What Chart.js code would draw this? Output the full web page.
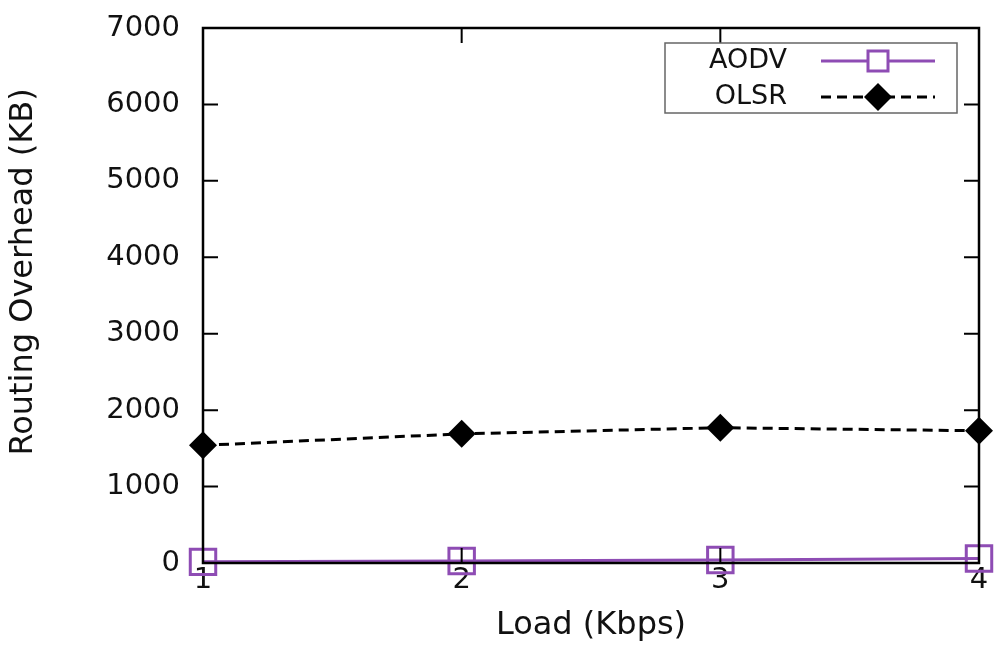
<!DOCTYPE html>
<html>
<head>
<meta charset="utf-8">
<title>Routing Overhead vs Load</title>
<script src="https://cdn.jsdelivr.net/npm/chart.js@4.4.1/dist/chart.umd.min.js"></script>
<style>
  html, body { margin: 0; padding: 0; background: #fff; }
  #wrap { width: 995px; height: 672px; }
</style>
</head>
<body>
<div id="wrap"><canvas id="overheadChart" width="995" height="672"></canvas></div>
<script>
// values
const loads = ['1', '2', '3', '4'];
const aodvOverhead = [15, 25, 40, 60];
const olsrOverhead = [1540, 1690, 1770, 1730];
const yTicks = [0, 1000, 2000, 3000, 4000, 5000, 6000, 7000];
const yTitle = 'Routing Overhead (KB)';

const PURPLE = '#8e4cb4';
const FONT = '"DejaVu Sans", "Liberation Sans", Arial, sans-serif';
const TEXT = '#111';

// keep the plot box where the original has it, labels may overhang
const noLabelPadding = (scale) => {
    scale.paddingTop = 0;
    scale.paddingBottom = 0;
    scale.paddingLeft = 0;
    scale.paddingRight = 0;
};

// gnuplot style frame with inward ticks on all four sides
const framePlugin = {
    id: 'frame',
    afterDatasetsDraw(chart) {
        const { ctx, chartArea: a, scales } = chart;
        const len = 15;
        ctx.save();
        ctx.strokeStyle = '#000';
        ctx.lineWidth = 2;
        ctx.beginPath();
        yTicks.slice(1, -1).forEach((v) => {
            const y = scales.y.getPixelForValue(v);
            ctx.moveTo(a.left, y); ctx.lineTo(a.left + len, y);
            ctx.moveTo(a.right, y); ctx.lineTo(a.right - len, y);
        });
        loads.slice(1, -1).forEach((l, i) => {
            const x = scales.x.getPixelForValue(i + 1);
            ctx.moveTo(x, a.bottom); ctx.lineTo(x, a.bottom - len);
            ctx.moveTo(x, a.top); ctx.lineTo(x, a.top + len);
        });
        ctx.stroke();
        ctx.lineWidth = 2.5;
        ctx.strokeRect(a.left, a.top, a.right - a.left, a.bottom - a.top);
        ctx.restore();
    },
    afterDraw(chart) {
        const { ctx } = chart;
        ctx.save();

        // y axis title, a bit above the plot centre like the original
        ctx.font = '32px ' + FONT;
        ctx.fillStyle = TEXT;
        ctx.textAlign = 'center';
        ctx.textBaseline = 'middle';
        ctx.translate(24, 272);
        ctx.rotate(-Math.PI / 2);
        ctx.fillText(yTitle, 0, 0);
        ctx.setTransform(1, 0, 0, 1, 0, 0);

        // legend: label on the left, line sample on the right, boxed
        const box = { x: 665, y: 43, w: 292, h: 70 };
        ctx.fillStyle = '#fff';
        ctx.fillRect(box.x, box.y, box.w, box.h);
        ctx.strokeStyle = '#666';
        ctx.lineWidth = 1.5;
        ctx.strokeRect(box.x, box.y, box.w, box.h);

        ctx.font = '27px ' + FONT;
        ctx.textAlign = 'right';

        chart.data.datasets.forEach((ds, i) => {
            const y = 61 + i * 36;
            ctx.fillStyle = TEXT;
            ctx.fillText(ds.label, 787, y);
            ctx.strokeStyle = ds.borderColor;
            ctx.lineWidth = ds.borderWidth;
            ctx.setLineDash(ds.borderDash || []);
            ctx.beginPath();
            ctx.moveTo(821, y); ctx.lineTo(935, y);
            ctx.stroke();
            ctx.setLineDash([]);
            if (ds.pointStyle === 'rect') {
                const s = 10;
                ctx.fillStyle = '#fff';
                ctx.fillRect(878 - s, y - s, 2 * s, 2 * s);
                ctx.strokeStyle = ds.pointBorderColor;
                ctx.lineWidth = ds.pointBorderWidth;
                ctx.strokeRect(878 - s, y - s, 2 * s, 2 * s);
            } else {
                const r = 14;
                ctx.fillStyle = ds.pointBackgroundColor;
                ctx.beginPath();
                ctx.moveTo(878 - r, y); ctx.lineTo(878, y - r);
                ctx.lineTo(878 + r, y); ctx.lineTo(878, y + r);
                ctx.closePath();
                ctx.fill();
            }
        });
        ctx.restore();
    },
};

new Chart(document.getElementById('overheadChart'), {
    type: 'line',
    data: {
        labels: loads,
        datasets: [
            {
                label: 'AODV',
                data: aodvOverhead,
                borderColor: PURPLE,
                borderWidth: 3,
                pointStyle: 'rect',
                pointRadius: 18,
                pointBorderWidth: 3,
                pointBorderColor: PURPLE,
                pointBackgroundColor: 'rgba(255,255,255,0)',
                tension: 0,
                clip: false,
            },
            {
                label: 'OLSR',
                data: olsrOverhead,
                borderColor: '#000',
                borderWidth: 3,
                borderDash: [10, 6],
                pointStyle: 'rectRot',
                pointRadius: 14,
                pointBorderWidth: 0,
                pointBackgroundColor: '#000',
                pointBorderColor: '#000',
                tension: 0,
                clip: false,
            },
        ],
    },
    options: {
        responsive: false,
        animation: false,
        events: [],
        layout: { autoPadding: false, padding: { top: 28, right: 16, left: 0, bottom: 0 } },
        plugins: { legend: { display: false }, tooltip: { enabled: false } },
        scales: {
            x: {
                type: 'category',
                offset: false,
                grid: { display: false, drawTicks: false },
                border: { display: false },
                ticks: { color: TEXT, padding: 0, font: { family: FONT, size: 29 } },
                title: {
                    display: true,
                    text: 'Load (Kbps)',
                    color: TEXT,
                    font: { family: FONT, size: 32 },
                    padding: { top: 0, bottom: 27 },
                },
                afterFit: (scale) => {
                    scale.height = 109;
                    noLabelPadding(scale);
                },
            },
            y: {
                min: 0,
                max: 7000,
                grid: { display: false, drawTicks: false },
                border: { display: false },
                ticks: {
                    stepSize: 1000,
                    color: TEXT,
                    padding: 23,
                    font: { family: FONT, size: 29 },
                    callback: (v) => String(v),
                },
                afterFit: (scale) => {
                    scale.width = 203;
                    noLabelPadding(scale);
                },
            },
        },
    },
    plugins: [framePlugin],
});
</script>
</body>
</html>
